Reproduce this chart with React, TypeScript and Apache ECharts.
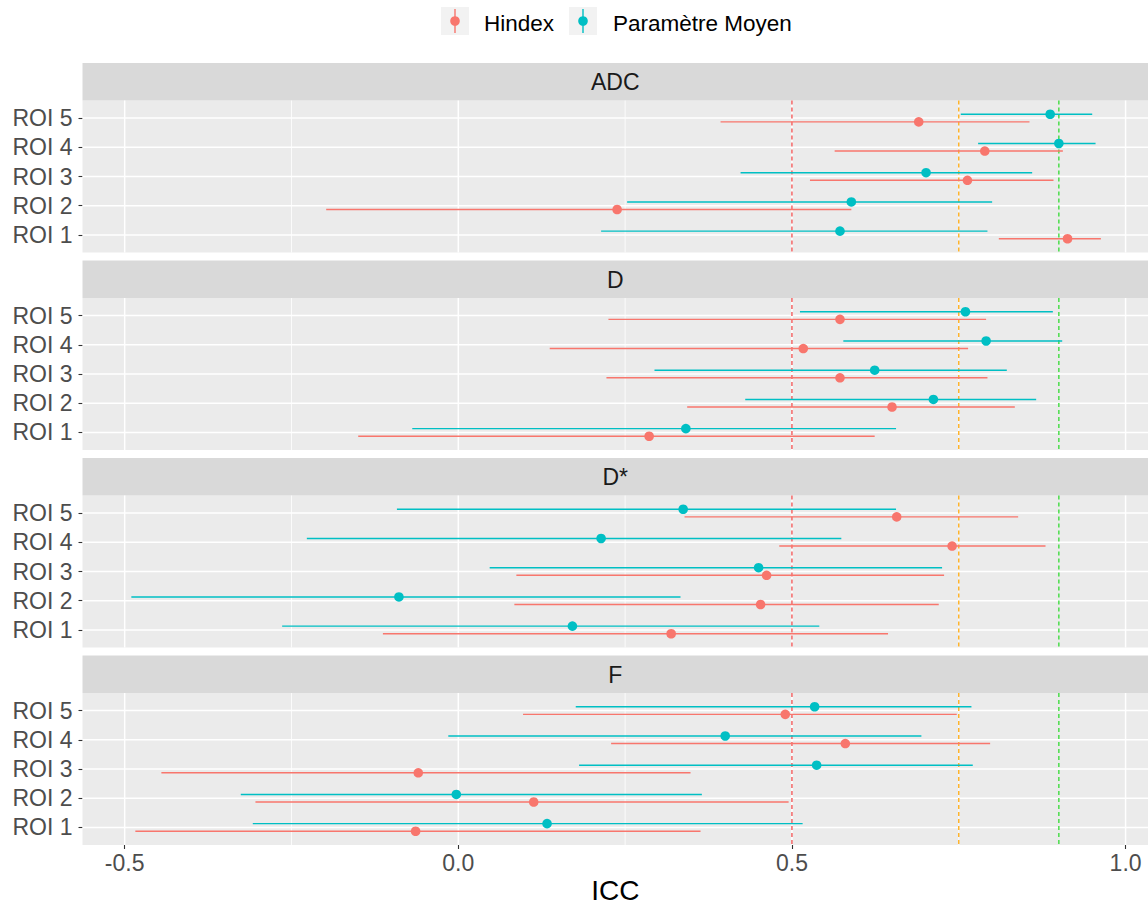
import React, { useEffect, useRef } from "react";
import * as echarts from "echarts";

// ---------- data ----------
const panels = ["ADC", "D", "D*", "F"];
const rois = ["ROI 1", "ROI 2", "ROI 3", "ROI 4", "ROI 5"];
const seriesNames = ["Hindex", "Paramètre Moyen"];
const xTicks = [-0.5, 0, 0.5, 1.0];
const xMinor = [-0.25, 0.25, 0.75];
const thresholds = [0.5, 0.75, 0.9];

// [lower, ICC, upper] for ROI 1..5
const hindexADC = [[0.810, 0.913, 0.963], [-0.198, 0.238, 0.589], [0.527, 0.763, 0.892], [0.564, 0.789, 0.906], [0.393, 0.690, 0.856]];
const moyenADC = [[0.214, 0.572, 0.793], [0.253, 0.589, 0.800], [0.423, 0.701, 0.860], [0.779, 0.900, 0.955], [0.753, 0.887, 0.950]];
const hindexD = [[-0.150, 0.286, 0.624], [0.343, 0.650, 0.834], [0.222, 0.572, 0.793], [0.137, 0.517, 0.764], [0.225, 0.572, 0.791]];
const moyenD = [[-0.069, 0.341, 0.656], [0.430, 0.712, 0.866], [0.294, 0.624, 0.822], [0.577, 0.791, 0.905], [0.512, 0.760, 0.891]];
const hindexDstar = [[-0.113, 0.319, 0.644], [0.084, 0.453, 0.720], [0.087, 0.462, 0.728], [0.481, 0.740, 0.880], [0.339, 0.657, 0.839]];
const moyenDstar = [[-0.264, 0.171, 0.541], [-0.490, -0.089, 0.333], [0.047, 0.450, 0.725], [-0.227, 0.214, 0.574], [-0.092, 0.337, 0.656]];
const hindexF = [[-0.484, -0.064, 0.363], [-0.304, 0.113, 0.495], [-0.445, -0.060, 0.348], [0.229, 0.580, 0.797], [0.097, 0.490, 0.747]];
const moyenF = [[-0.308, 0.133, 0.516], [-0.326, -0.003, 0.365], [0.181, 0.537, 0.771], [-0.015, 0.400, 0.694], [0.176, 0.534, 0.769]];

const hindexByPanel = [hindexADC, hindexD, hindexDstar, hindexF];
const moyenByPanel = [moyenADC, moyenD, moyenDstar, moyenF];

// ---------- style ----------
const COLORS = ["#F8766D", "#00BFC4"];
const TH_COLORS = ["#F25A5A", "#FFB020", "#3FDC3F"];
const FONT = "Liberation Sans, Arial, sans-serif";
const FS = 23;
const X_MIN = -0.5632;
const X_MAX = 1.0336;
const Y_MIN = 0.4;
const Y_MAX = 5.6;
const DODGE = 0.13;
const PT_R = 4.8;
const BAR_W = 1.4;

const PANEL_LEFT = 82.5;
const PANEL_WIDTH = 1065.5;
const STRIP_TOP0 = 63;
const STRIP_H = 37.5;
const PANEL_H = 152;
const PANEL_STEP = 197.5;

export default function App() {
  const ref = useRef<HTMLDivElement>(null);

  useEffect(() => {
    if (!ref.current) return;
    const chart = echarts.init(ref.current, undefined, { renderer: "svg" });

    const grids: any[] = [];
    const xAxes: any[] = [];
    const yAxes: any[] = [];
    const series: any[] = [];
    const graphics: any[] = [];

    panels.forEach((name, p) => {
      const stripTop = STRIP_TOP0 + p * PANEL_STEP;
      const gridTop = stripTop + STRIP_H;
      const last = p === panels.length - 1;

      grids.push({
        left: PANEL_LEFT,
        top: gridTop,
        width: PANEL_WIDTH,
        height: PANEL_H,
        show: true,
        backgroundColor: "#EBEBEB",
        borderWidth: 0,
        containLabel: false,
        outerBoundsMode: "none",
      });

      xAxes.push({
        type: "value",
        gridIndex: p,
        min: X_MIN,
        max: X_MAX,
        position: "bottom",
        splitLine: { show: false },
        axisLine: { show: false, onZero: false },
        axisTick: {
          show: last,
          customValues: xTicks,
          length: 4,
          lineStyle: { color: "#333333", width: 1.1 },
        },
        axisLabel: {
          show: last,
          customValues: xTicks,
          formatter: (v: number) => v.toFixed(1),
          fontSize: FS,
          color: "#4D4D4D",
          fontFamily: FONT,
          margin: 6,
        },
        name: last ? "ICC" : "",
        nameLocation: "middle",
        nameGap: 31,
        nameTextStyle: { fontSize: 28, color: "#000000", fontFamily: FONT },
      });

      yAxes.push({
        type: "value",
        gridIndex: p,
        min: Y_MIN,
        max: Y_MAX,
        position: "left",
        splitLine: { show: false },
        axisLine: { show: false, onZero: false },
        axisTick: {
          show: true,
          customValues: [1, 2, 3, 4, 5],
          length: 4,
          lineStyle: { color: "#333333", width: 1.1 },
        },
        axisLabel: {
          show: true,
          customValues: [1, 2, 3, 4, 5],
          formatter: (v: number) => rois[Math.round(v) - 1] ?? "",
          fontSize: FS,
          color: "#4D4D4D",
          fontFamily: FONT,
          margin: 10,
        },
      });

      // horizontal major gridlines
      series.push({
        type: "custom",
        xAxisIndex: p,
        yAxisIndex: p,
        silent: true,
        z: 1,
        data: rois.map((_, i) => [0, i + 1]),
        encode: { x: 0, y: 1 },
        renderItem: (params: any, api: any) => {
          const cs = params.coordSys;
          const y = api.coord([0, api.value(1)])[1];
          return {
            type: "line",
            shape: { x1: cs.x, y1: y, x2: cs.x + cs.width, y2: y },
            style: { stroke: "#FFFFFF", lineWidth: 1.5 },
          };
        },
      });
      // vertical major & minor gridlines
      [
        { vals: xTicks, w: 1.5 },
        { vals: xMinor, w: 0.8 },
      ].forEach((g) => {
        series.push({
          type: "custom",
          xAxisIndex: p,
          yAxisIndex: p,
          silent: true,
          z: 1,
          data: g.vals.map((v) => [v, 1]),
          encode: { x: 0, y: 1 },
          renderItem: (params: any, api: any) => {
            const cs = params.coordSys;
            const x = api.coord([api.value(0), 1])[0];
            return {
              type: "line",
              shape: { x1: x, y1: cs.y, x2: x, y2: cs.y + cs.height },
              style: { stroke: "#FFFFFF", lineWidth: g.w },
            };
          },
        });
      });
      // threshold dashed lines
      series.push({
        type: "custom",
        xAxisIndex: p,
        yAxisIndex: p,
        silent: true,
        z: 2,
        data: thresholds.map((v) => [v, 1]),
        encode: { x: 0, y: 1 },
        renderItem: (params: any, api: any) => {
          const cs = params.coordSys;
          const x = api.coord([api.value(0), 1])[0];
          return {
            type: "line",
            shape: { x1: x, y1: cs.y, x2: x, y2: cs.y + cs.height },
            style: {
              stroke: TH_COLORS[params.dataIndex],
              lineWidth: 1.4,
              lineDash: [4, 3],
            },
          };
        },
      });

      // error bars + points
      [hindexByPanel[p], moyenByPanel[p]].forEach((arr, s) => {
        const color = COLORS[s];
        const sign = s === 0 ? 1 : -1; // Hindex below, Moyen above
        series.push({
          type: "custom",
          name: seriesNames[s],
          xAxisIndex: p,
          yAxisIndex: p,
          z: 3,
          data: arr.map((d, i) => [d[0], d[1], d[2], i + 1]),
          encode: { x: [0, 1, 2], y: 3 },
          renderItem: (params: any, api: any) => {
            const roi = api.value(3);
            const yOff = sign * api.size([0, DODGE])[1];
            const pLo = api.coord([api.value(0), roi]);
            const pEst = api.coord([api.value(1), roi]);
            const pHi = api.coord([api.value(2), roi]);
            return {
              type: "group",
              children: [
                {
                  type: "line",
                  shape: { x1: pLo[0], y1: pLo[1] + yOff, x2: pHi[0], y2: pHi[1] + yOff },
                  style: { stroke: color, lineWidth: BAR_W },
                },
                {
                  type: "circle",
                  shape: { cx: pEst[0], cy: pEst[1] + yOff, r: PT_R },
                  style: { fill: color },
                },
              ],
            };
          },
        });
      });

      // strip
      graphics.push({
        type: "rect",
        shape: { x: PANEL_LEFT, y: stripTop, width: PANEL_WIDTH, height: STRIP_H },
        style: { fill: "#D9D9D9" },
        silent: true,
      });
      graphics.push({
        type: "text",
        x: PANEL_LEFT + PANEL_WIDTH / 2,
        y: stripTop + STRIP_H / 2 + 0.5,
        style: {
          text: name,
          fontSize: FS,
          fontFamily: FONT,
          fill: "#1A1A1A",
          align: "center",
          verticalAlign: "middle",
        },
        silent: true,
      });
    });

    // legend (drawn)
    const legendItems = [
      { key: 441, text: 484 },
      { key: 569, text: 613 },
    ];
    legendItems.forEach((li, s) => {
      graphics.push({
        type: "rect",
        shape: { x: li.key, y: 7, width: 28, height: 28 },
        style: { fill: "#F2F2F2" },
        silent: true,
      });
      graphics.push({
        type: "line",
        shape: { x1: li.key + 14, y1: 9, x2: li.key + 14, y2: 33 },
        style: { stroke: COLORS[s], lineWidth: BAR_W },
        silent: true,
      });
      graphics.push({
        type: "circle",
        shape: { cx: li.key + 14, cy: 21, r: PT_R },
        style: { fill: COLORS[s] },
        silent: true,
      });
      graphics.push({
        type: "text",
        x: li.text,
        y: 23.5,
        style: {
          text: seriesNames[s],
          fontSize: 22.5,
          fontFamily: FONT,
          fill: "#000000",
          align: "left",
          verticalAlign: "middle",
        },
        silent: true,
      });
    });

    chart.setOption({
      animation: false,
      backgroundColor: "#FFFFFF",
      grid: grids,
      xAxis: xAxes,
      yAxis: yAxes,
      series,
      graphic: { elements: graphics },
    });

    return () => chart.dispose();
  }, []);

  return (
    <div
      ref={ref}
      style={{ position: "absolute", left: 0, top: 0, width: 1148, height: 908 }}
    />
  );
}
